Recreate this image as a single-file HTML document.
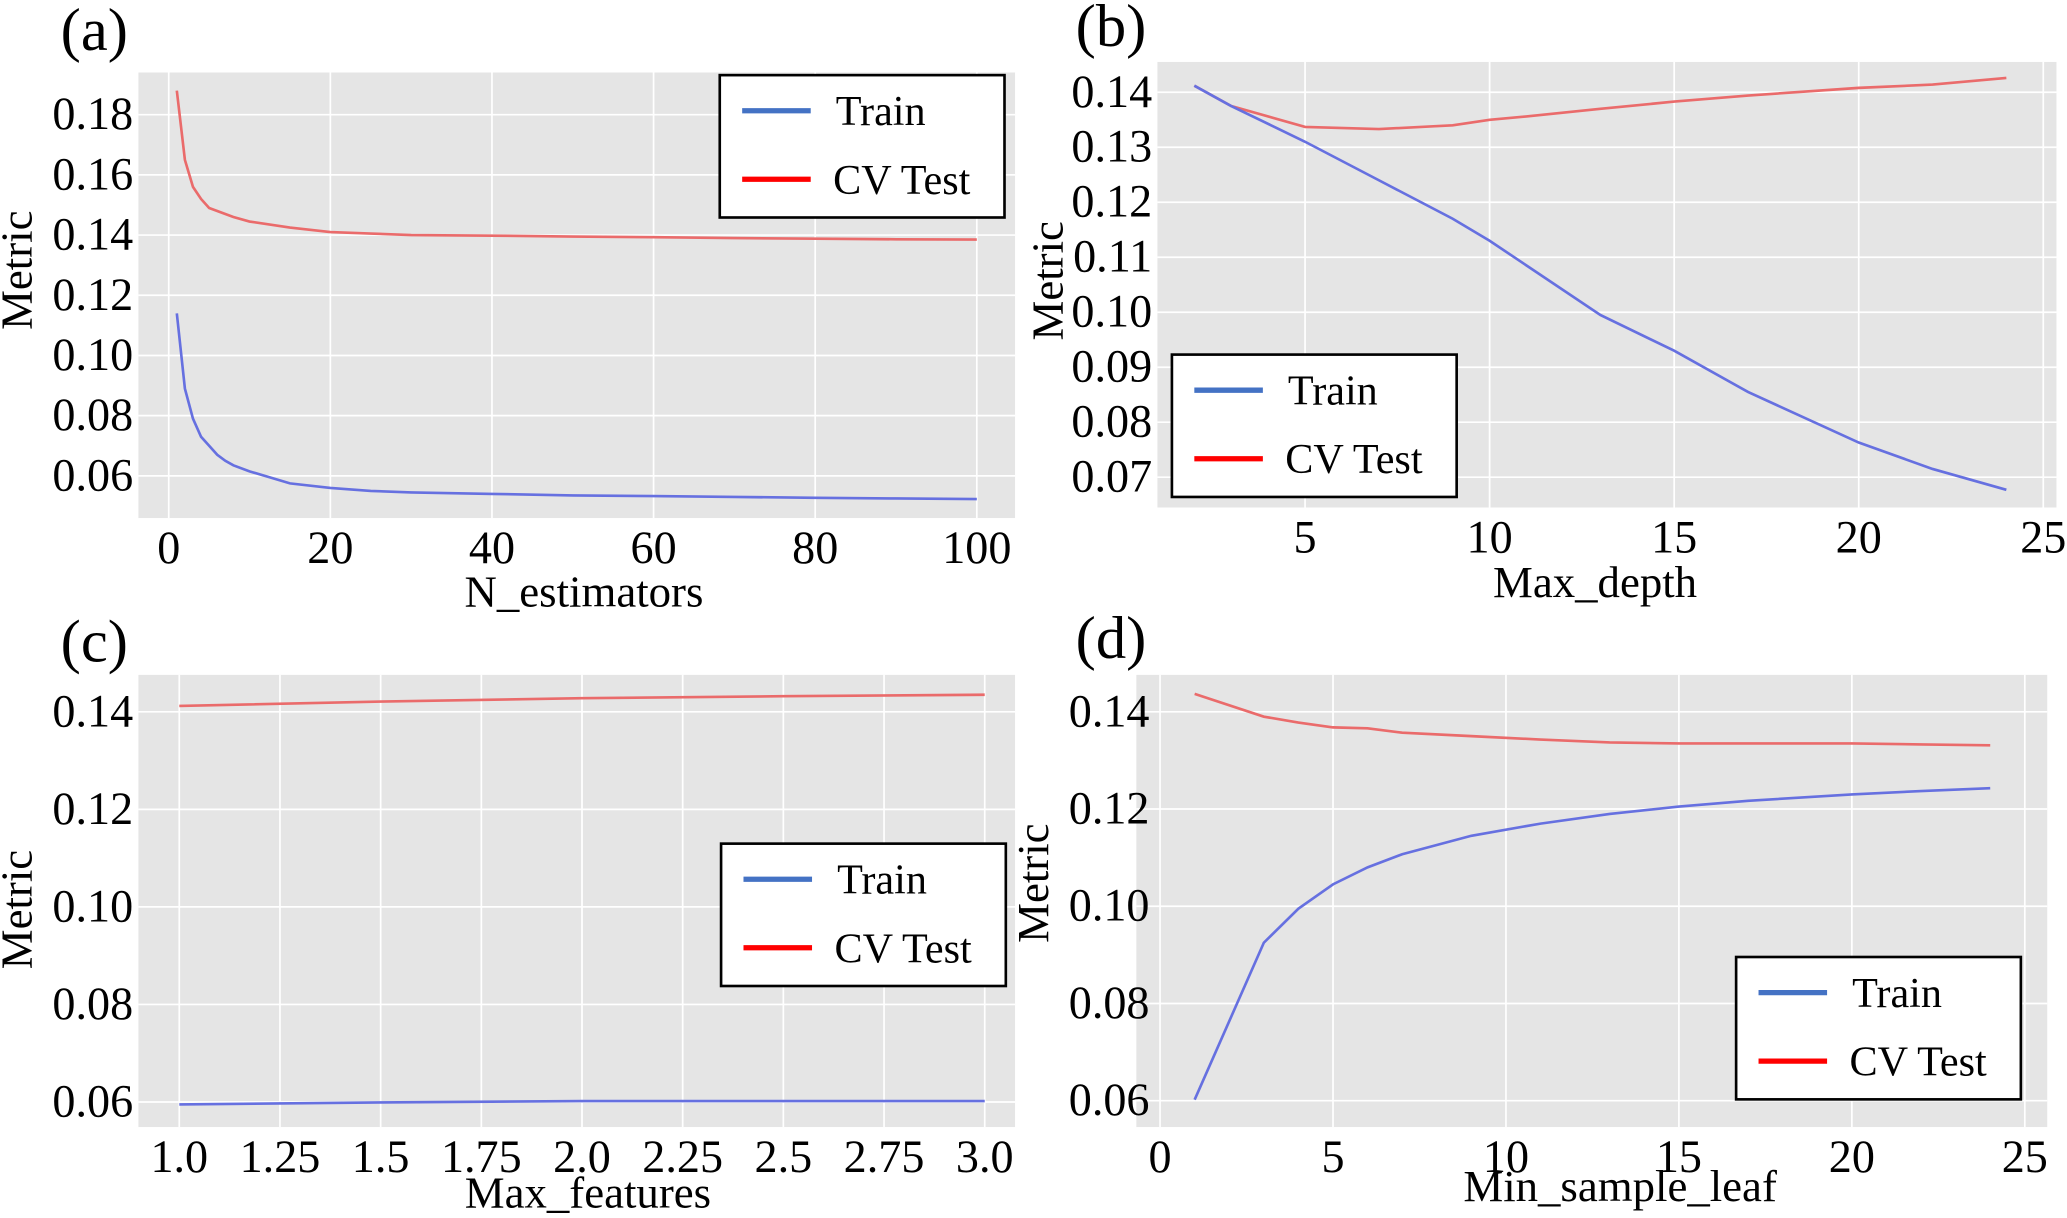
<!DOCTYPE html>
<html><head><meta charset="utf-8"><style>
html,body{margin:0;padding:0;background:#fff;}
svg{display:block;font-family:"Liberation Serif",serif;}
</style></head><body>
<svg id="chart" width="2067" height="1218" viewBox="0 0 1568 924" preserveAspectRatio="none" xmlns="http://www.w3.org/2000/svg"></svg>
<script>
// Panel (a)
const aX = [1,2,3,4,5,6,7,8,10,15,20,25,30,40,50,60,70,80,90,100];
const aTest = [0.188,0.165,0.156,0.152,0.149,0.148,0.147,0.146,0.1445,0.1425,0.141,0.1405,0.140,0.1398,0.1395,0.1393,0.139,0.1388,0.1386,0.1385];
const aTrain = [0.114,0.089,0.079,0.073,0.070,0.067,0.065,0.0635,0.0615,0.0575,0.056,0.055,0.0545,0.054,0.0535,0.0533,0.053,0.0527,0.0525,0.0523];
const aXTicks = [0,20,40,60,80,100];
const aYTicks = [0.06,0.08,0.10,0.12,0.14,0.16,0.18];
// Panel (b)
const bX = [2,3,5,7,9,10,11,13,15,17,20,22,24];
const bTest = [0.1412,0.1375,0.1337,0.1333,0.134,0.135,0.1356,0.137,0.1383,0.1394,0.1408,0.1414,0.1426];
const bTrain = [0.1412,0.1375,0.131,0.124,0.117,0.113,0.1085,0.0995,0.0930,0.0855,0.0763,0.0715,0.0677];
const bXTicks = [5,10,15,20,25];
const bYTicks = [0.07,0.08,0.09,0.10,0.11,0.12,0.13,0.14];
// Panel (c)
const cX = [1,1.5,2,2.5,3];
const cTest = [0.1412,0.1421,0.1428,0.1432,0.1435];
const cTrain = [0.0595,0.0599,0.0602,0.0602,0.0602];
const cXTicks = [1.0,1.25,1.5,1.75,2.0,2.25,2.5,2.75,3.0];
const cXLabels = ["1.0","1.25","1.5","1.75","2.0","2.25","2.5","2.75","3.0"];
const cYTicks = [0.06,0.08,0.10,0.12,0.14];
// Panel (d)
const dX = [1,3,4,5,6,7,9,11,13,15,17,20,22,24];
const dTest = [0.1437,0.139,0.1378,0.1368,0.1366,0.1357,0.135,0.1343,0.1337,0.1335,0.1335,0.1335,0.1333,0.1331];
const dTrain = [0.0602,0.0925,0.0995,0.1045,0.108,0.1107,0.1145,0.117,0.119,0.1205,0.1217,0.123,0.1237,0.1243];
const dXTicks = [0,5,10,15,20,25];
const dYTicks = [0.06,0.08,0.10,0.12,0.14];

const NS="http://www.w3.org/2000/svg";
const svg=document.getElementById('chart');
function mk(tag,attrs,parent,txt){const e=document.createElementNS(NS,tag);for(const k in attrs)e.setAttribute(k,attrs[k]);if(txt!==undefined)e.textContent=txt;(parent||svg).appendChild(e);return e;}

function panel(o){
  const g=mk('g',{});
  
  
  const sx=v=>o.px0+(v-o.x0)*(o.px1-o.px0)/(o.x1-o.x0);
  const sy=v=>o.py0+(v-o.y0)*(o.py1-o.py0)/(o.y1-o.y0);
  const bg=mk('rect',{x:o.L,y:o.T,width:o.R-o.L,height:o.B-o.T,fill:'#e5e5e5'},g);
  
  
  o.xt.forEach((t,i)=>{
    const gl=mk('line',{x1:sx(t),x2:sx(t),y1:o.T,y2:o.B,stroke:'#fff','stroke-width':1.3},g);
    
    
    const lb=mk('text',{x:sx(t),y:o.B+34,'text-anchor':'middle','font-size':35},g,o.xl?o.xl[i]:String(t));
    
    
  });
  o.yt.forEach(t=>{
    const gl=mk('line',{x1:o.L,x2:o.R,y1:sy(t),y2:sy(t),stroke:'#fff','stroke-width':1.3},g);
    
    
    const lb=mk('text',{x:o.ylx,y:sy(t)+11,'text-anchor':'end','font-size':35},g,t.toFixed(2));
    
    
  });
  const line=(ys,col,name)=>{
    const p=mk('polyline',{points:o.xs.map((x,i)=>sx(x)+','+sy(ys[i])).join(' '),fill:'none',stroke:col,'stroke-width':2},g);
    
    
  };
  line(o.test,'#ea6b6b','cv-test-line');
  line(o.train,'#6670e0','train-line');
  const yt=mk('text',{x:0,y:0,'text-anchor':'middle','font-size':34,transform:`translate(${o.ytx},${o.yty}) rotate(-90)`},g,'Metric');
  
  
  const xt=mk('text',{x:o.xtx,y:o.xty,'text-anchor':'middle','font-size':34},g,o.xtitle);
  
  
  const pl=mk('text',{x:o.plx,y:o.ply,'font-size':46},g,'('+o.id+')');
  
  
  const lg=mk('g',{},g);
  
  
  mk('rect',{x:o.lgx,y:o.lgy,width:216,height:108,fill:'#fff',stroke:'#000','stroke-width':2},lg);
  const e1=mk('g',{},lg);
  
  
  mk('line',{x1:o.lgx+17,x2:o.lgx+69,y1:o.lgy+27,y2:o.lgy+27,stroke:'#4472c4','stroke-width':4},e1);
  mk('text',{x:o.lgx+88,y:o.lgy+38,'font-size':32},e1,'Train');
  const e2=mk('g',{},lg);
  
  
  mk('line',{x1:o.lgx+17,x2:o.lgx+69,y1:o.lgy+79,y2:o.lgy+79,stroke:'#ff0000','stroke-width':4},e2);
  mk('text',{x:o.lgx+86,y:o.lgy+90,'font-size':32},e2,'CV Test');
}

panel({id:'a',L:105,R:770,T:55,B:393,x0:0,x1:100,px0:128,px1:741,y0:0.06,y1:0.18,py0:361,py1:87,ylx:101,
  xs:aX,test:aTest,train:aTrain,xt:aXTicks,yt:aYTicks,ytx:24,yty:205,xtitle:'N_estimators',xtx:443,xty:460,plx:46,ply:38,lgx:546,lgy:57});
panel({id:'b',L:878,R:1560,T:47,B:385,x0:5,x1:25,px0:990,px1:1550,y0:0.07,y1:0.14,py0:362,py1:70,ylx:874,
  xs:bX,test:bTest,train:bTrain,xt:bXTicks,yt:bYTicks,ytx:806,yty:213,xtitle:'Max_depth',xtx:1210,xty:453,plx:816,ply:35,lgx:889,lgy:269});
panel({id:'c',L:105,R:770,T:512,B:855,x0:1,x1:3,px0:136,px1:747,y0:0.06,y1:0.14,py0:836,py1:540,ylx:101,
  xs:cX,test:cTest,train:cTrain,xt:cXTicks,xl:cXLabels,yt:cYTicks,ytx:24,yty:690,xtitle:'Max_features',xtx:446,xty:916,plx:46,ply:502,lgx:547,lgy:640});
panel({id:'d',L:862,R:1553,T:512,B:855,x0:0,x1:25,px0:880,px1:1536,y0:0.06,y1:0.14,py0:835,py1:540,ylx:872,
  xs:dX,test:dTest,train:dTrain,xt:dXTicks,yt:dYTicks,ytx:795,yty:670,xtitle:'Min_sample_leaf',xtx:1229,xty:911,plx:816,ply:499,lgx:1317,lgy:726});
</script>
</body></html>
